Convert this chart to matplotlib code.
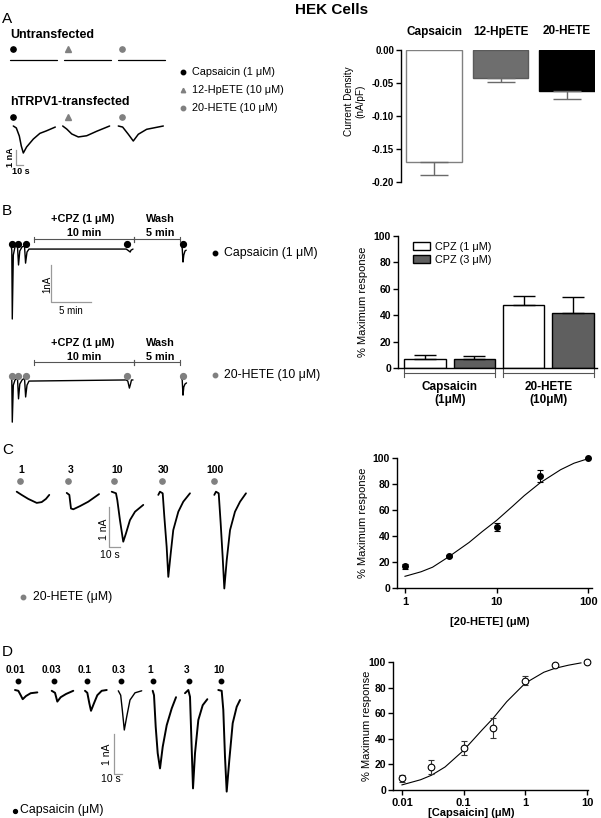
import numpy as np
import matplotlib.pyplot as plt
from matplotlib.patches import Patch
from matplotlib.transforms import blended_transform_factory

plt.rcParams['font.family'] = ['Liberation Sans', 'DejaVu Sans']
plt.rcParams['axes.linewidth'] = 1.0

GRAY = '#808080'

# ---------------- data ----------------
# A: current density (nA/pF), mean and SEM
agonists_a = ['Capsaicin', '12-HpETE', '20-HETE']
density_a = [-0.170, -0.042, -0.062]
density_sem_a = [0.019, 0.007, 0.012]

# B: % maximum response with CPZ
groups_b = ['Capsaicin\n(1\u03bcM)', '20-HETE\n(10\u03bcM)']
cpz1_b = [7.0, 47.6]
cpz1_sem_b = [2.8, 6.6]
cpz3_b = [6.8, 41.6]
cpz3_sem_b = [2.3, 12.1]

# C: 20-HETE concentration-response
hete_conc = [1, 3, 10, 30, 100]
hete_resp = [16.7, 24.9, 46.7, 86.4, 100]
hete_sem = [2.0, 0.8, 3.0, 4.5, 0]
hete_fit_x = [1, 1.5, 2, 3, 5, 7, 10, 15, 20, 30, 50, 70, 100]
hete_fit_y = [9, 12.5, 16, 24, 35, 43.5, 52, 63, 71, 81, 91, 96, 99.5]

# D: capsaicin concentration-response
cap_conc = [0.01, 0.03, 0.1, 0.3, 1, 3, 10]
cap_resp = [9.1, 18.3, 32.6, 48.3, 85.4, 97.4, 100]
cap_sem = [2.6, 5.5, 5.5, 8.0, 3.5, 0, 0]
cap_fit_x = [0.01, 0.02, 0.03, 0.05, 0.1, 0.2, 0.3, 0.5, 1, 2, 3, 5, 8]
cap_fit_y = [4, 8, 11.5, 18, 31, 47, 56, 69, 83.5, 92, 95, 97.5, 99.3]

# current traces: time (s, or min in B) and current (nA)
untr_t = [0, 67]
untr_i = [0, 0]
trpv1_t = [[0, 4.3, 8.6, 11.4, 14.3, 19, 28.6, 38, 47, 60],
           [0, 5.7, 12.9, 22.3, 34.3, 48.6, 67],
           [0, 6.2, 14.3, 21.4, 28.6, 40.5, 64.3]]
trpv1_i = [[0, -0.13, -0.67, -1.33, -1.8, -1.4, -0.87, -0.49, -0.33, -0.07],
           [0, -0.2, -0.53, -0.73, -0.65, -0.35, 0],
           [0, -0.07, -0.55, -1.0, -0.55, -0.22, 0]]

cpz_cap_t = [[0, 0.1, 0.16, 0.29, 0.5, 0.81, 0.94, 1.1, 1.38, 1.69, 1.82, 2.0, 2.25,
              14.4, 14.6, 14.9, 15.0, 15.25],
             [21.25, 21.4, 21.5, 21.6, 21.75, 21.9]]
cpz_cap_i = [[0, -0.14, -2.0, -0.27, -0.05, -0.03, -0.54, -0.16, -0.05, -0.03, -0.49, -0.19, -0.11,
              -0.11, -0.14, -0.19, -0.14, -0.11],
             [0, -0.08, -0.46, -0.27, -0.16, -0.14]]
cpz_hete_t = [[0, 0.1, 0.16, 0.29, 0.5, 0.81, 0.94, 1.1, 1.38, 1.69, 1.83, 2.0, 2.25,
               14.4, 14.6, 14.8, 14.94, 15.06, 15.25],
              [21.25, 21.4, 21.5, 21.6, 21.75, 21.94]]
cpz_hete_i = [[0, -0.08, -1.22, -0.22, -0.08, -0.03, -0.59, -0.19, -0.08, -0.03, -0.54, -0.22, -0.11,
               -0.08, -0.11, -0.3, -0.19, -0.08, -0.08],
              [0, -0.08, -0.49, -0.27, -0.19, -0.16]]

hete_labels = ['1', '3', '10', '30', '100']
hete_tr_t = [[0, 4.5, 10.5, 18.2, 22.7, 26.6, 29.6],
             [0, 2.4, 3.9, 6, 12.1, 19.6, 29.4],
             [0, 3.9, 5.1, 7.5, 10.5, 13, 16.6, 21.2, 28.7],
             [0, 1.5, 4, 5.5, 7.6, 9.1, 11.3, 13.6, 18.2, 22.7, 28.8],
             [0, 1.5, 4, 5.8, 7.6, 9.1, 11.3, 14.3, 18.8, 23.4, 28.8]]
hete_tr_i = [[0, -0.08, -0.18, -0.28, -0.26, -0.18, -0.08],
             [-0.03, -0.08, -0.42, -0.44, -0.36, -0.25, -0.06],
             [0, -0.04, -0.21, -0.71, -1.25, -1.04, -0.71, -0.5, -0.33],
             [-0.08, 0, -0.04, -0.63, -1.38, -2.13, -1.54, -0.96, -0.5, -0.25, -0.04],
             [-0.08, 0, -0.04, -0.79, -1.63, -2.42, -1.71, -0.96, -0.5, -0.25, -0.04]]

cap_labels = ['0.01', '0.03', '0.1', '0.3', '1', '3', '10']
cap_tr_t = [[0, 4.3, 7.4, 10, 14.3, 20.4, 29],
            [0, 4.3, 7.3, 11.7, 18.6, 28],
            [0, 3, 5.6, 7.8, 11.7, 16, 21.7, 28.2],
            [0, 3.1, 5.2, 7.8, 10.9, 15.2, 21.7, 30.4],
            [0, 1.7, 3.9, 6.5, 9.5, 13, 18.2, 24.7, 30.3],
            [0, 4.3, 6.5, 8.2, 10.4, 13, 17.3, 23, 29],
            [0, 4.4, 6.5, 8.7, 10.9, 14.3, 18.7, 23.9, 28.2]]
cap_tr_i = [[0, -0.02, -0.13, -0.23, -0.15, -0.08, -0.06],
            [-0.02, -0.07, -0.29, -0.18, -0.1, -0.02],
            [-0.02, -0.07, -0.33, -0.52, -0.33, -0.13, -0.02, 0],
            [-0.02, -0.13, -0.5, -1.0, -0.67, -0.25, -0.07, -0.02],
            [-0.02, -0.13, -0.92, -1.58, -1.96, -1.42, -0.88, -0.46, -0.18],
            [-0.08, 0, -0.17, -1.17, -2.46, -1.58, -0.75, -0.38, -0.23],
            [0, -0.02, -0.5, -1.67, -2.54, -1.75, -0.83, -0.42, -0.25]]

# ---------------- figure ----------------
fig = plt.figure(figsize=(6.01, 8.18), dpi=100)

# overlay in pixel units for the recordings and annotations
ov = fig.add_axes([0, 0, 1, 1])
ov.set_xlim(0, 601)
ov.set_ylim(818, 0)
ov.axis('off')


def trace(t, i, x0, y0, sx, sy, lw=1.1):
    ov.plot(x0 + np.asarray(t) * sx, y0 - np.asarray(i) * sy, color='black', lw=lw,
            solid_joinstyle='round', solid_capstyle='round')


def scalebar(x, y, h, w, lab_v, lab_h, vpos, hpos, fs=7.5, weight='normal'):
    ov.plot([x, x, x + w], [y - h, y, y], color='#9a9a9a', lw=0.9)
    ov.text(vpos[0], vpos[1], lab_v, rotation=90, ha='center', va='center', fontsize=fs, weight=weight)
    ov.text(hpos[0], hpos[1], lab_h, ha='center', va='center', fontsize=fs, weight=weight)


def span(x1, x2, y, h=2.5):
    ov.plot([x1, x2], [y, y], color='#555555', lw=0.8)
    ov.plot([x1, x1], [y - h, y + h], color='#555555', lw=0.8)
    ov.plot([x2, x2], [y - h, y + h], color='#555555', lw=0.8)


fig.text(332 / 601, 1 - 10 / 818, 'HEK Cells', ha='center', va='center', fontsize=11, weight='bold')
for letter, yy in zip('ABCD', [19, 211, 450, 652]):
    ov.text(2, yy, letter, fontsize=11, ha='left', va='center')

# ---- A traces
ov.text(10, 35, 'Untransfected', fontsize=9, weight='bold', va='center')
ov.text(10, 102, 'hTRPV1-transfected', fontsize=9, weight='bold', va='center')
a_marks = [dict(marker='o', color='black'), dict(marker='^', color=GRAY), dict(marker='o', color=GRAY)]
for k, x0 in enumerate([10, 64, 118]):
    trace(untr_t, untr_i, x0, 59.5, 0.7, 15, lw=0.9)
for k, x0 in enumerate([13.3, 62.7, 118.3]):
    trace(trpv1_t[k], trpv1_i[k], x0, 126, 0.7, 15)
for k, xm in enumerate([13.3, 67.7, 121.7]):
    ov.plot(xm, 49, ms=3.8, ls='none', **a_marks[k])
    ov.plot(xm, 117, ms=3.8, ls='none', **a_marks[k])
scalebar(16, 165, 15, 7, '1 nA', '10 s', (10.5, 157), (21, 172), fs=6.5, weight='bold')
for k, (yy, name) in enumerate(zip([72, 90, 108], ['Capsaicin (1 \u03bcM)', '12-HpETE (10 \u03bcM)', '20-HETE (10 \u03bcM)'])):
    ov.plot(183, yy, ms=3.2, ls='none', **a_marks[k])
    ov.text(192, yy, name, fontsize=7.8, va='center')

# ---- B traces
for y0, tt, ii, col, ytxt, name in [(245, cpz_cap_t, cpz_cap_i, 'black', 219, 'Capsaicin (1 \u03bcM)'),
                                   (377, cpz_hete_t, cpz_hete_i, GRAY, 343, '20-HETE (10 \u03bcM)')]:
    for t, i in zip(tt, ii):
        trace(t, i, 11, y0, 8, 37, lw=1.0)
    for xm in [11.9, 18.4, 25.6, 126.8, 182.7]:
        ov.plot(xm, y0 - 1.5, 'o', color=col, ms=4.2)
    ybar = 239 if y0 == 245 else 362
    span(34, 134, ybar)
    span(134, 180, ybar)
    ov.text(83, ytxt, '+CPZ (1 \u03bcM)', fontsize=7.8, weight='bold', ha='center', va='center')
    ov.text(84, ytxt + 13.5, '10 min', fontsize=7.8, weight='bold', ha='center', va='center')
    ov.text(160, ytxt, 'Wash', fontsize=7.8, weight='bold', ha='center', va='center')
    ov.text(160, ytxt + 13.5, '5 min', fontsize=7.8, weight='bold', ha='center', va='center')
    ov.plot(215, y0 + 8 if y0 == 245 else y0 - 2, 'o', color=col, ms=3.2)
    ov.text(224, y0 + 8 if y0 == 245 else y0 - 2, name, fontsize=8.8, va='center')
scalebar(51, 302, 37, 40, '1nA', '5 min', (47, 284), (70.5, 310.5), fs=7)

# ---- C traces
for k, x0 in enumerate([16.7, 66.7, 111.7, 158.3, 214.3]):
    trace(hete_tr_t[k], hete_tr_i[k], x0, 491.7, 1.1, 40, lw=1.3)
for lab, xl, xm in zip(hete_labels, [21.7, 70.7, 116.7, 164, 215], [20, 68.3, 114, 161.7, 214.3]):
    ov.text(xl, 470, lab, fontsize=7.5, weight='bold', ha='center', va='center')
    ov.plot(xm, 480.7, 'o', color=GRAY, ms=3.8)
scalebar(109.3, 546.7, 40, 11, '1 nA', '10 s', (104, 529), (110, 554.5))
ov.plot(23.3, 596.7, 'o', color=GRAY, ms=3.2)
ov.text(33, 596.7, '20-HETE (\u03bcM)', fontsize=8.8, va='center')

# ---- D traces
for k, x0 in enumerate([15, 51.7, 85, 118.3, 152.7, 185, 218.3]):
    trace(cap_tr_t[k], cap_tr_i[k], x0, 690, 0.77, 40, lw=1.4 if k != 3 else 1.0)
for lab, xl, xm in zip(cap_labels, [15, 51.7, 85, 118.3, 150, 186.7, 219.3],
                       [18.3, 54, 87.3, 121, 153.3, 189, 220.7]):
    ov.text(xl, 670, lab, fontsize=7.3, weight='bold', ha='center', va='center')
    ov.plot(xm, 681, 'o', color='black', ms=3.2)
scalebar(114, 774, 40, 7.7, '1 nA', '10 s', (107, 754), (111, 779.5))
ov.plot(15, 811, 'o', color='black', ms=2.8)
ov.text(19.5, 810, 'Capsaicin (\u03bcM)', fontsize=8.8, va='center')


def style_axes(ax, fs=7.5):
    ax.set_facecolor('none')
    for s in ['top', 'right']:
        ax.spines[s].set_visible(False)
    ax.tick_params(direction='out', length=3.5, width=1, labelsize=fs, pad=1.5)
    for lab in ax.get_xticklabels() + ax.get_yticklabels():
        lab.set_fontweight('bold')


# ---- A bar chart
ax_a = fig.add_axes([401 / 601, 1 - 182 / 818, 194 / 601, 132 / 818])
xa = np.arange(len(agonists_a))
ax_a.bar(xa, density_a, width=0.835, color=['white', '#6e6e6e', 'black'],
         edgecolor=[GRAY, '#5a5a5a', 'black'], lw=1)
ax_a.errorbar(xa, density_a, yerr=[density_sem_a, np.zeros(3)], fmt='none',
              ecolor='#6a6a6a', elinewidth=1, capsize=10, capthick=1)
ax_a.set_xlim(-0.5, 2.42)
ax_a.set_ylim(-0.2, 0)
ax_a.set_yticks([0, -0.05, -0.10, -0.15, -0.20])
ax_a.set_yticklabels(['0.00', '-0.05', '-0.10', '-0.15', '-0.20'])
ax_a.xaxis.tick_top()
ax_a.set_xticks(xa)
ax_a.set_xticklabels(agonists_a)
style_axes(ax_a, fs=7)
ax_a.spines['bottom'].set_visible(False)
ax_a.tick_params(axis='x', length=0, pad=9, labelsize=8.5)
fig.text(355 / 601, 1 - 101 / 818, 'Current Density\n(nA/pF)', rotation=90, ha='center', va='center',
         fontsize=7.2, linespacing=1.15)

# ---- B bar chart
ax_b = fig.add_axes([398 / 601, 1 - 368 / 818, 199 / 601, 132 / 818])
xb = np.arange(len(groups_b))
ax_b.bar(xb - 0.25, cpz1_b, width=0.42, color='white', edgecolor='black', lw=1, label='CPZ (1 \u03bcM)')
ax_b.bar(xb + 0.25, cpz3_b, width=0.42, color='#5f5f5f', edgecolor='black', lw=1, label='CPZ (3 \u03bcM)')
ax_b.errorbar(xb - 0.25, cpz1_b, yerr=[np.zeros(2), cpz1_sem_b], fmt='none', ecolor='black',
              elinewidth=1, capsize=8, capthick=1)
ax_b.errorbar(xb + 0.25, cpz3_b, yerr=[np.zeros(2), cpz3_sem_b], fmt='none', ecolor='black',
              elinewidth=1, capsize=8, capthick=1)
ax_b.set_xlim(-0.525, 1.495)
ax_b.set_ylim(0, 100)
ax_b.set_yticks(np.arange(0, 101, 20))
ax_b.set_xticks([])
style_axes(ax_b)
ax_b.legend(handles=[Patch(facecolor='white', edgecolor='black'), Patch(facecolor='#5f5f5f', edgecolor='black')],
            labels=['CPZ (1 \u03bcM)', 'CPZ (3 \u03bcM)'], loc='upper left', bbox_to_anchor=(0.055, 0.99),
            frameon=False, fontsize=7.8, handlelength=1.5, handleheight=0.7, labelspacing=0.3,
            handletextpad=0.5, borderaxespad=0)
tb = blended_transform_factory(ax_b.transData, ax_b.transAxes)
for g, name in zip(xb, groups_b):
    ax_b.plot([g - 0.46, g + 0.46], [-0.038, -0.038], color='#555555', lw=0.8, transform=tb, clip_on=False)
    for e in (g - 0.46, g + 0.46):
        ax_b.plot([e, e], [-0.065, -0.011], color='#555555', lw=0.8, transform=tb, clip_on=False)
    ax_b.text(g, -0.19, name, transform=tb, ha='center', va='center', fontsize=8.5, weight='bold',
              linespacing=1.1)
fig.text(363 / 601, 1 - 302 / 818, '% Maximum response', rotation=90, ha='center', va='center', fontsize=8)

# ---- C concentration-response
ax_c = fig.add_axes([397 / 601, 1 - 588 / 818, 195 / 601, 130 / 818])
ax_c.set_xscale('log')
ax_c.plot(hete_fit_x, hete_fit_y, color='black', lw=0.8)
hc = np.array(hete_conc)
hs = np.array(hete_sem)
m = hs > 0
ax_c.errorbar(hc[m], np.array(hete_resp)[m], yerr=hs[m], fmt='none', ecolor='black', elinewidth=0.8,
              capsize=2.5, capthick=0.8)
ax_c.plot(hete_conc, hete_resp, 'o', color='black', ms=4, clip_on=False, zorder=3)
ax_c.set_xlim(0.818, 110)
ax_c.set_ylim(0, 100)
ax_c.set_yticks(np.arange(0, 101, 20))
ax_c.set_xticks([1, 10, 100])
ax_c.set_xticklabels(['1', '10', '100'])
ax_c.minorticks_off()
style_axes(ax_c)
ax_c.tick_params(axis='x', labelsize=8, pad=3)
fig.text(490 / 601, 1 - 622 / 818, '[20-HETE] (\u03bcM)', ha='center', va='center', fontsize=8, weight='bold')
fig.text(363 / 601, 1 - 523 / 818, '% Maximum response', rotation=90, ha='center', va='center', fontsize=8)

# ---- D concentration-response
ax_d = fig.add_axes([393 / 601, 1 - 790 / 818, 195 / 601, 128 / 818])
ax_d.set_xscale('log')
ax_d.plot(cap_fit_x, cap_fit_y, color='black', lw=0.8)
cc = np.array(cap_conc)
cs = np.array(cap_sem)
m = cs > 0
ax_d.errorbar(cc[m], np.array(cap_resp)[m], yerr=cs[m], fmt='none', ecolor='#333333', elinewidth=0.8,
              capsize=2.2, capthick=0.8)
ax_d.plot(cap_conc, cap_resp, 'o', mfc='white', mec='black', mew=0.8, ms=4.8, clip_on=False, zorder=3)
ax_d.set_xlim(0.00715, 10.4)
ax_d.set_ylim(0, 100)
ax_d.set_yticks(np.arange(0, 101, 20))
ax_d.set_xticks([0.01, 0.1, 1, 10])
ax_d.set_xticklabels(['0.01', '0.1', '1', '10'])
ax_d.minorticks_off()
style_axes(ax_d)
ax_d.tick_params(axis='x', labelsize=8, pad=2)
fig.text(471 / 601, 1 - 813 / 818, '[Capsaicin] (\u03bcM)', ha='center', va='center', fontsize=8, weight='bold')
fig.text(367 / 601, 1 - 726 / 818, '% Maximum response', rotation=90, ha='center', va='center', fontsize=8)

fig.savefig('out.png', dpi=100)
